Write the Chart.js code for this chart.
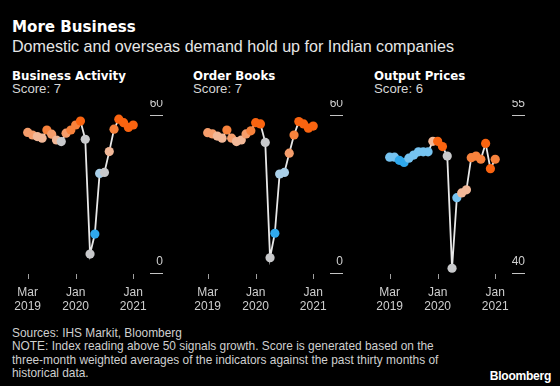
<!DOCTYPE html>
<html>
<head>
<meta charset="utf-8">
<script src="https://cdn.jsdelivr.net/npm/chart.js@4.4.1/dist/chart.umd.min.js"></script>
<style>
  html, body { margin:0; padding:0; background:#000; }
  #wrap { position:relative; width:560px; height:386px; background:#000; overflow:hidden; font-family:"Liberation Sans", Arial, sans-serif; }
  .t { position:absolute; white-space:nowrap; }
  .pt { font-family:"DejaVu Sans", sans-serif; font-weight:bold; font-size:11.8px; line-height:16px; color:#fff; top:68px; }
  .ps { font-size:13.2px; line-height:16px; color:#d6d6d6; top:81px; }
  canvas { position:absolute; }
</style>
</head>
<body>
<div id="wrap">
  <div class="t" style="left:12px; top:17px; font-family:'DejaVu Sans',sans-serif; font-size:15.1px; line-height:20px; font-weight:bold; color:#fff;">More Business</div>
  <div class="t" style="left:12px; top:36px; font-size:16.1px; line-height:20px; color:#e6e6e6;">Domestic and overseas demand hold up for Indian companies</div>

  <div class="t pt" style="left:12px;">Business Activity</div>
  <div class="t ps" style="left:12px;" id="s1"></div>
  <div class="t pt" style="left:193px;">Order Books</div>
  <div class="t ps" style="left:193px;" id="s2"></div>
  <div class="t pt" style="left:374px;">Output Prices</div>
  <div class="t ps" style="left:374px;" id="s3"></div>

  <canvas id="c1" width="170" height="220" style="left:0px; top:100px;"></canvas>
  <canvas id="c2" width="170" height="220" style="left:180px; top:100px;"></canvas>
  <canvas id="c3" width="170" height="220" style="left:362px; top:100px;"></canvas>

  <div class="t" style="left:12px; top:327px; font-size:11.9px; line-height:13.4px; color:#cfcfcf;">Sources: IHS Markit, Bloomberg<br>NOTE: Index reading above 50 signals growth. Score is generated based on the<br>three-month weighted averages of the indicators against the past thirty months of<br>historical data.</div>
  <div class="t" style="right:9px; top:368px; font-size:12.1px; line-height:16px; font-weight:bold; color:#fff; letter-spacing:-0.3px;">Bloomberg</div>
</div>
<script>
// ---- data ----
const months = ['Mar 2019','Apr 2019','May 2019','Jun 2019','Jul 2019','Aug 2019','Sep 2019','Oct 2019','Nov 2019','Dec 2019',
                'Jan 2020','Feb 2020','Mar 2020','Apr 2020','May 2020','Jun 2020','Jul 2020','Aug 2020','Sep 2020','Oct 2020',
                'Nov 2020','Dec 2020','Jan 2021'];
const tickMonths = ['Mar 2019','Jan 2020','Jan 2021'];

const businessActivity = [53.4,52.4,51.8,51.2,54.3,52.7,50.5,49.9,53.1,54.3,56.2,57.7,50.8,7.2,14.8,37.8,38.2,46.1,54.6,58.4,57.1,55.3,56.2];
const orderBooks       = [53.3,52.8,52.0,51.2,54.3,51.2,49.9,50.5,52.8,54.0,57.1,56.6,49.6,5.8,15.1,37.6,38.2,45.5,52.4,57.5,56.6,55.0,55.8];
const outputPrices     = [51.0,51.0,50.7,50.5,50.9,51.2,51.5,51.5,51.5,52.5,52.5,52.0,51.1,40.45,47.15,47.6,47.9,50.95,51.1,50.8,52.3,49.9,50.8];

// colour level of each point (-3 strongly below ... 4 strongly above)
const businessLevel = [2,2,1,1,3,2,1,0,2,3,3,4,0,0,-3,-1,0,1,3,4,4,4,4];
const orderLevel    = [2,2,1,1,3,2,1,1,2,3,4,4,0,0,-3,-1,-1,2,3,4,4,4,4];
const priceLevel    = [-2,-2,-3,-3,-2,-2,-2,-2,-2,1,4,4,0,0,-2,1,1,3,3,3,4,4,3];

const scores = [7,7,6];
const yRanges = [[0,60],[0,60],[40,55]];

// ---- styling ----
const palette = {'4':'#fa6410','3':'#f7823c','2':'#f59d6b','1':'#f2b898','0':'#c8c9cb','-1':'#a9cfe8','-2':'#76c3f0','-3':'#2fa8ec'};
Chart.defaults.font.family = '"Liberation Sans", Arial, sans-serif';

document.getElementById('s1').textContent = 'Score: ' + scores[0];
document.getElementById('s2').textContent = 'Score: ' + scores[1];
document.getElementById('s3').textContent = 'Score: ' + scores[2];

const tickIdx = tickMonths.map(m => months.indexOf(m));

// short tick dashes drawn at the scales' own tick positions
const tickMarks = {
  id: 'tickMarks',
  afterDraw(chart) {
    const ctx = chart.ctx, xs = chart.scales.x, ys = chart.scales.y, ca = chart.chartArea;
    ctx.save();
    ctx.lineWidth = 1;
    ctx.strokeStyle = '#a0a0a0';
    ctx.beginPath();
    xs.ticks.forEach(t => {
      const px = Math.round(xs.getPixelForValue(t.value)) + 0.5;
      ctx.moveTo(px, ca.bottom + 1);
      ctx.lineTo(px, ca.bottom + 6);
    });
    ctx.stroke();
    ctx.strokeStyle = '#c4c4c4';
    ctx.beginPath();
    ys.ticks.forEach(t => {
      const py = Math.round(ys.getPixelForValue(t.value)) + 0.5;
      ctx.moveTo(ys.left, py);
      ctx.lineTo(ys.left + 13, py);
    });
    ctx.stroke();
    ctx.restore();
  }
};

function makePanel(id, values, levels, range) {
  new Chart(document.getElementById(id), {
    type: 'line',
    data: {
      datasets: [{
        data: values.map((v, i) => ({x: i, y: v})),
        borderColor: '#e8e8e8',
        borderWidth: 1.8,
        pointRadius: 4.6,
        pointHoverRadius: 4.6,
        pointBorderWidth: 0,
        pointBackgroundColor: levels.map(l => palette[String(l)]),
        tension: 0,
        clip: false
      }]
    },
    plugins: [tickMarks],
    options: {
      responsive: false,
      animation: false,
      devicePixelRatio: 1,
      layout: { padding: { left: 27.7, right: 7, top: 15, bottom: 0 } },
      plugins: { legend: { display: false }, tooltip: { enabled: false } },
      events: [],
      scales: {
        x: {
          type: 'linear', min: 0, max: 25.5,
          afterBuildTicks: s => { s.ticks = tickIdx.map(v => ({value: v})); },
          afterFit: s => { s.height = 47; },
          border: { display: false },
          grid: { display: false },
          ticks: {
            color: '#cfcfcf', font: { size: 12 }, padding: 4, maxRotation: 0, autoSkip: false,
            callback: v => { const m = months[v]; return m ? m.split(' ') : ''; }
          }
        },
        y: {
          position: 'right', min: range[0], max: range[1],
          afterBuildTicks: s => { s.ticks = [{value: range[0]}, {value: range[1]}]; },
          afterFit: s => { s.width = 13; },
          border: { display: false },
          grid: { display: false },
          ticks: { color: '#cfcfcf', font: { size: 12 }, padding: 0, crossAlign: 'far', labelOffset: -11 }
        }
      }
    }
  });
}

makePanel('c1', businessActivity, businessLevel, yRanges[0]);
makePanel('c2', orderBooks, orderLevel, yRanges[1]);
makePanel('c3', outputPrices, priceLevel, yRanges[2]);
</script>
</body>
</html>
